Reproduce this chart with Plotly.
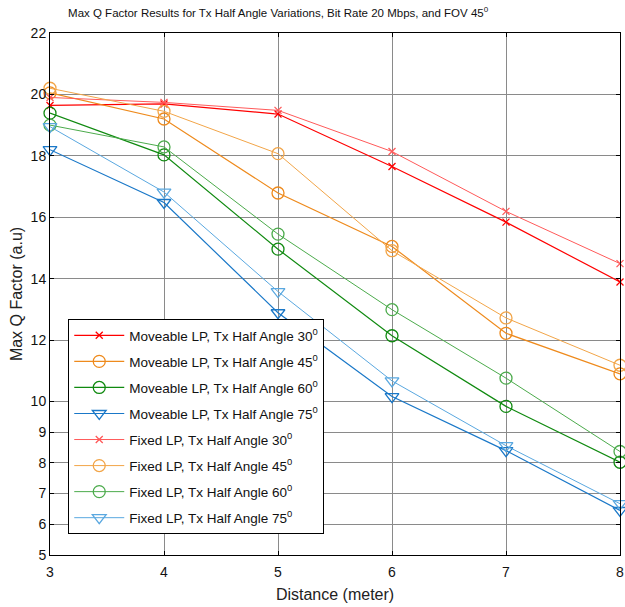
import plotly.graph_objects as go

distance = [3, 4, 5, 6, 7, 8]

moveable_30 = [19.64, 19.69, 19.36, 17.65, 15.84, 13.89]
moveable_45 = [20.05, 19.20, 16.79, 15.05, 12.22, 10.90]
moveable_60 = [19.39, 18.03, 14.96, 12.14, 9.84, 8.02]
moveable_75 = [18.20, 16.48, 12.89, 10.16, 8.40, 6.45]

fixed_30 = [19.90, 19.74, 19.48, 18.14, 16.19, 14.49]
fixed_45 = [20.20, 19.45, 18.07, 14.91, 12.72, 11.18]
fixed_60 = [19.00, 18.29, 15.45, 12.99, 10.76, 8.37]
fixed_75 = [18.95, 16.82, 13.58, 10.67, 8.56, 6.67]

y_ticks = [5, 6, 7, 8, 9, 10, 12, 14, 16, 18, 20, 22]
x_ticks = [3, 4, 5, 6, 7, 8]

series = [
    ("Moveable LP, Tx Half Angle 30<sup>0</sup>", moveable_30, "#ff0000", "x-thin-open", 7, 1.2),
    ("Moveable LP, Tx Half Angle 45<sup>0</sup>", moveable_45, "#ee8a1c", "circle-open", 12, 1.2),
    ("Moveable LP, Tx Half Angle 60<sup>0</sup>", moveable_60, "#108a10", "circle-open", 12, 1.2),
    ("Moveable LP, Tx Half Angle 75<sup>0</sup>", moveable_75, "#1a78c8", "triangle-down-open", 12, 1.2),
    ("Fixed LP, Tx Half Angle 30<sup>0</sup>", fixed_30, "#ff5a5a", "x-thin-open", 7, 1.0),
    ("Fixed LP, Tx Half Angle 45<sup>0</sup>", fixed_45, "#f2a548", "circle-open", 12, 1.0),
    ("Fixed LP, Tx Half Angle 60<sup>0</sup>", fixed_60, "#4cab4c", "circle-open", 12, 1.0),
    ("Fixed LP, Tx Half Angle 75<sup>0</sup>", fixed_75, "#5aa8e0", "triangle-down-open", 12, 1.0),
]

fig = go.Figure()
for i, (name, vals, color, sym, size, lw) in enumerate(series):
    fig.add_trace(go.Scatter(
        x=distance, y=vals, name=name, mode="lines+markers",
        legendgroup=f"g{i}",
        line=dict(color=color, width=lw),
        marker=dict(symbol=sym, size=size, color=color, line=dict(color=color, width=1.3)),
        cliponaxis=False,
    ))

font_family = "Liberation Sans, Arial"
axis_common = dict(
    showline=True, linecolor="black", linewidth=1, mirror="ticks",
    ticks="inside", ticklen=4, tickcolor="black",
    showgrid=True, gridcolor="#8a8a8a", gridwidth=1, zeroline=False,
    tickfont=dict(family=font_family, size=14, color="#111"),
    ticklabeloverflow="allow",
)

fig.update_xaxes(range=[3, 8], tickvals=x_ticks, ticklabelstandoff=4, **axis_common,
                 title=dict(text="Distance (meter)", font=dict(family=font_family, size=16, color="#222"), standoff=10))
fig.update_yaxes(range=[5, 22], tickvals=y_ticks, **axis_common,
                 title=dict(text="Max Q Factor (a.u)", font=dict(family=font_family, size=16, color="#222"), standoff=4))

fig.update_layout(
    width=625, height=607,
    margin=dict(l=50, r=5, t=33, b=52, autoexpand=False),
    plot_bgcolor="white", paper_bgcolor="white",
    title=dict(text="Max Q Factor Results for Tx Half Angle Variations, Bit Rate 20 Mbps, and FOV 45<sup>0</sup>",
               x=0.445, xanchor="center", y=0.985, yanchor="top",
               font=dict(family=font_family, size=11.5, color="#111")),
    legend=dict(x=0.032, y=0.452, xanchor="left", yanchor="top",
                bgcolor="white", bordercolor="black", borderwidth=1,
                font=dict(family=font_family, size=13.5, color="#111"),
                tracegroupgap=5.5, itemwidth=50, traceorder="grouped"),
    showlegend=True,
)

fig.write_html("out.html")
